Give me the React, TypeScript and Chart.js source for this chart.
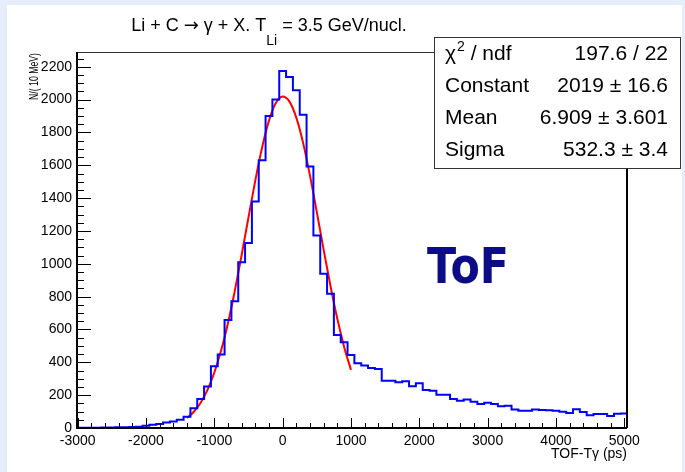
import React, { useEffect, useRef } from "react";
import { Chart, registerables } from "chart.js";

Chart.register(...registerables);

// ---- data ----
const binWidth = 100;
const binCenters = [
  -3000, -2900, -2800, -2700, -2600, -2500, -2400, -2300, -2200, -2100,
  -2000, -1900, -1800, -1700, -1600, -1500, -1400, -1300, -1200, -1100,
  -1000, -900, -800, -700, -600, -500, -400, -300, -200, -100,
  0, 100, 200, 300, 400, 500, 600, 700, 800, 900,
  1000, 1100, 1200, 1300, 1400, 1500, 1600, 1700, 1800, 1900,
  2000, 2100, 2200, 2300, 2400, 2500, 2600, 2700, 2800, 2900,
  3000, 3100, 3200, 3300, 3400, 3500, 3600, 3700, 3800, 3900,
  4000, 4100, 4200, 4300, 4400, 4500, 4600, 4700, 4800, 4900,
  5000,
];
const counts = [
  1, 2, 2, 2, 3, 3, 4, 5, 6, 8,
  14, 20, 24, 34, 40, 51, 69, 120, 177, 252,
  376, 447, 658, 772, 1010, 1126, 1380, 1630, 1900, 2000,
  2174, 2138, 2057, 1908, 1593, 1173, 939, 817, 567, 522,
  445, 394, 380, 366, 360, 288, 288, 278, 284, 254,
  272, 232, 227, 203, 203, 177, 166, 174, 160, 146,
  154, 146, 132, 136, 112, 105, 105, 112, 110, 108,
  105, 99, 91, 114, 97, 77, 85, 85, 73, 87,
  89,
];
// Gaussian fit curve samples (Constant 2019, Mean 6.909, Sigma 532.3)
const fitX = [
  -1400, -1300, -1200, -1100, -1000, -900, -800, -700, -600, -500, -400, -300,
  -200, -100, 0, 100, 200, 300, 400, 500, 600, 700, 800, 900, 1000,
];
const fitY = [
  61, 99, 154, 232, 338, 473, 640, 836, 1054, 1283, 1508, 1710,
  1872, 1979, 2019, 1988, 1890, 1735, 1537, 1315, 1085, 865, 665, 494, 354,
];
const xTickValues = [-3000, -2000, -1000, 0, 1000, 2000, 3000, 4000, 5000];
const yTickValues = [0, 200, 400, 600, 800, 1000, 1200, 1400, 1600, 1800, 2000, 2200];
const xMinorStep = 200;
const yMinorStep = 50;
const xMin = -3010;
const xMax = 5040;
const yMin = 0;
const yMax = 2290;

const titleParts = ["Li + C ", "\u2192", " \u03b3 + X. T"];
const titleSub = "Li";
const titleRest = " = 3.5 GeV/nucl.";
const yTitle = "N/( 10 MeV)";
const xTitle = "TOF-T\u03b3 (ps)";
const statsNames = ["ndf", "Constant", "Mean", "Sigma"];
const statsValues = ["197.6 / 22", "2019 \u00b1 16.6", "6.909 \u00b1 3.601", "532.3 \u00b1 3.4"];
const annotation = "ToF";

const FONT = "'Liberation Sans', Arial, Helvetica, sans-serif";
const ARROW_FONT = "'DejaVu Sans', sans-serif";

const decorPlugin = {
  id: "decor",
  beforeDraw(chart: any) {
    const ctx = chart.ctx;
    ctx.save();
    ctx.fillStyle = "#ffffff";
    ctx.fillRect(0, 0, chart.width, chart.height);
    ctx.fillStyle = "#e5eefa";
    ctx.fillRect(0, 0, chart.width, 5);
    ctx.fillRect(0, 0, 7, chart.height);
    ctx.fillRect(chart.width - 3, 0, 3, chart.height);
    ctx.restore();
  },
  afterDraw(chart: any) {
    const ctx = chart.ctx;
    const a = chart.chartArea;
    const xs = chart.scales.x;
    const ys = chart.scales.y;
    ctx.save();
    // frame
    ctx.strokeStyle = "#333";
    ctx.lineWidth = 1;
    ctx.beginPath();
    ctx.moveTo(a.left, a.top + 0.5);
    ctx.lineTo(a.right, a.top + 0.5);
    ctx.stroke();
    ctx.strokeStyle = "#000";
    ctx.lineWidth = 2;
    ctx.beginPath();
    ctx.moveTo(a.right, a.top);
    ctx.lineTo(a.right, a.bottom);
    ctx.stroke();
    ctx.beginPath();
    ctx.moveTo(a.left, a.top);
    ctx.lineTo(a.left, a.bottom);
    ctx.lineTo(a.right, a.bottom);
    ctx.stroke();
    // ticks
    ctx.lineWidth = 1;
    ctx.strokeStyle = "#000";
    ctx.beginPath();
    for (let v = Math.ceil(xMin / xMinorStep) * xMinorStep; v <= xMax; v += xMinorStep) {
      const px = Math.round(xs.getPixelForValue(v)) + 0.5;
      const major = xTickValues.indexOf(v) >= 0;
      ctx.moveTo(px, a.bottom);
      ctx.lineTo(px, a.bottom - (major ? 10 : 5));
    }
    for (let v = Math.ceil(yMin / yMinorStep) * yMinorStep; v <= yMax; v += yMinorStep) {
      const py = Math.round(ys.getPixelForValue(v)) + 0.5;
      const major = yTickValues.indexOf(v) >= 0;
      ctx.moveTo(a.left, py);
      ctx.lineTo(a.left + (major ? 14 : 7), py);
    }
    ctx.stroke();

    // title
    ctx.fillStyle = "#000";
    ctx.textBaseline = "alphabetic";
    ctx.textAlign = "left";
    const fonts = [`18px ${FONT}`, `18px ${ARROW_FONT}`, `18px ${FONT}`];
    const widths = titleParts.map((p, i) => {
      ctx.font = fonts[i];
      return ctx.measureText(p).width;
    });
    ctx.font = `18px ${FONT}`;
    const wRest = ctx.measureText(titleRest).width;
    ctx.font = `14px ${FONT}`;
    const wSub = ctx.measureText(titleSub).width;
    const total = widths.reduce((s, w) => s + w, 0) + wSub + wRest;
    let tx = 269 - total / 2;
    titleParts.forEach((p, i) => {
      ctx.font = fonts[i];
      ctx.fillText(p, tx, 31);
      tx += widths[i];
    });
    ctx.font = `14px ${FONT}`;
    ctx.fillText(titleSub, tx, 45);
    tx += wSub;
    ctx.font = `18px ${FONT}`;
    ctx.fillText(titleRest, tx, 31);

    // y title (rotated)
    ctx.save();
    ctx.font = `12px ${FONT}`;
    const yw = ctx.measureText(yTitle).width;
    ctx.translate(38, 53);
    ctx.rotate(-Math.PI / 2);
    ctx.scale(47 / yw, 1);
    ctx.textAlign = "right";
    ctx.fillText(yTitle, 0, 0);
    ctx.restore();

    // x title
    ctx.font = `14px ${FONT}`;
    ctx.textAlign = "right";
    ctx.fillText(xTitle, 627, 458);

    // stats box
    ctx.fillStyle = "#fff";
    ctx.fillRect(434, 37, 246, 131);
    ctx.strokeStyle = "#333";
    ctx.lineWidth = 1;
    ctx.strokeRect(434.5, 37.5, 246, 131);
    ctx.fillStyle = "#000";
    const rows = [59.5, 92, 124, 156];
    ctx.font = `21px ${FONT}`;
    ctx.textAlign = "left";
    ctx.fillText("\u03c7", 445, rows[0]);
    const chiW = ctx.measureText("\u03c7").width;
    ctx.font = `14px ${FONT}`;
    ctx.fillText("2", 445 + chiW + 1, rows[0] - 9);
    const twoW = ctx.measureText("2").width;
    ctx.font = `21px ${FONT}`;
    ctx.fillText(" / " + statsNames[0], 445 + chiW + twoW + 1, rows[0]);
    for (let i = 1; i < statsNames.length; i++) {
      ctx.fillText(statsNames[i], 445, rows[i]);
    }
    ctx.textAlign = "right";
    for (let i = 0; i < statsValues.length; i++) {
      ctx.fillText(statsValues[i], 668, rows[i]);
    }

    // ToF annotation
    ctx.save();
    ctx.font = `bold 50px 'DejaVu Sans', sans-serif`;
    const tw = ctx.measureText(annotation).width;
    ctx.translate(427, 283);
    ctx.scale(82 / tw, 1);
    ctx.textAlign = "left";
    ctx.fillStyle = "#0c0c86";
    ctx.fillText(annotation, 0, 0);
    ctx.restore();

    ctx.restore();
  },
};

export default function App() {
  const ref = useRef<HTMLCanvasElement | null>(null);
  useEffect(() => {
    if (!ref.current) return;
    const histPoints = binCenters.map((c, i) => ({ x: c - binWidth / 2, y: counts[i] }));
    histPoints.push({
      x: binCenters[binCenters.length - 1] + binWidth / 2,
      y: counts[counts.length - 1],
    });
    const fitPoints = fitX.map((x, i) => ({ x, y: fitY[i] }));
    const chart = new Chart(ref.current, {
      type: "line",
      data: {
        datasets: [
          {
            data: histPoints,
            borderColor: "#0000ff",
            borderWidth: 2,
            pointRadius: 0,
            stepped: true,
            fill: false,
          },
          {
            data: fitPoints,
            borderColor: "#ff0000",
            borderWidth: 2,
            pointRadius: 0,
            cubicInterpolationMode: "monotone",
            fill: false,
          },
        ],
      },
      options: {
        animation: false,
        responsive: false,
        events: [],
        layout: { padding: { left: 0, right: 58, top: 52, bottom: 0 } },
        plugins: {
          legend: { display: false },
          title: { display: false },
          tooltip: { enabled: false },
        },
        scales: {
          x: {
            type: "linear",
            min: xMin,
            max: xMax,
            grid: { display: false, drawTicks: false },
            border: { display: false },
            afterBuildTicks: (s: any) => {
              s.ticks = xTickValues.map((v) => ({ value: v }));
            },
            afterFit: (s: any) => {
              s.height = 44;
            },
            ticks: {
              color: "#000",
              padding: 5,
              maxRotation: 0,
              autoSkip: false,
              font: { family: FONT, size: 14 },
              callback: (v: any) => String(v),
            },
          },
          y: {
            type: "linear",
            min: yMin,
            max: yMax,
            grid: { display: false, drawTicks: false },
            border: { display: false },
            afterBuildTicks: (s: any) => {
              s.ticks = yTickValues.map((v) => ({ value: v }));
            },
            afterFit: (s: any) => {
              s.width = 77;
            },
            ticks: {
              color: "#000",
              padding: 5,
              autoSkip: false,
              font: { family: FONT, size: 14 },
              callback: (v: any) => String(v),
            },
          },
        },
      },
      plugins: [decorPlugin],
    });
    return () => chart.destroy();
  }, []);
  return (
    <div style={{ position: "fixed", left: 0, top: 0, width: 685, height: 472 }}>
      <canvas ref={ref} width={685} height={472} style={{ display: "block", width: 685, height: 472 }} />
    </div>
  );
}
